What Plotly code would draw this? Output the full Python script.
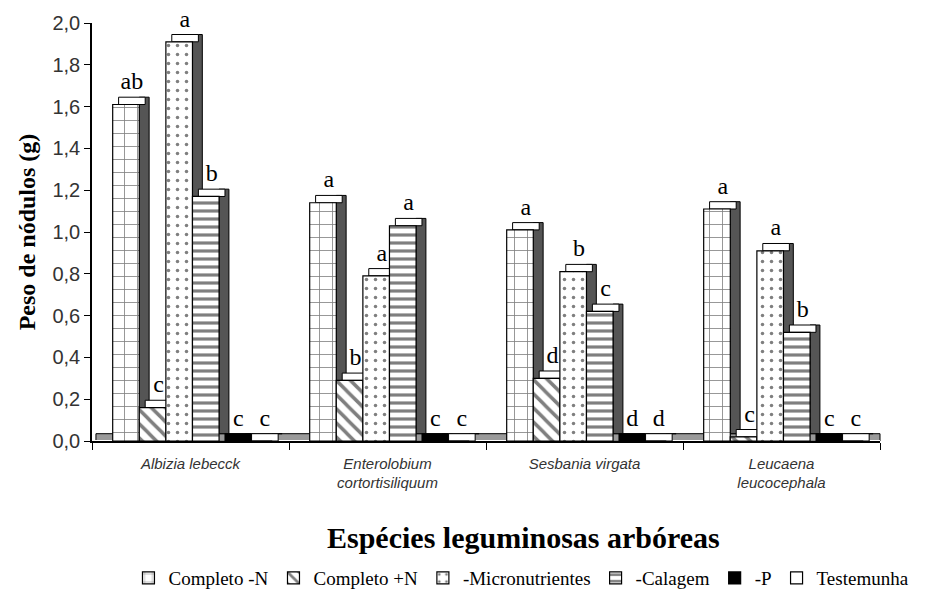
import plotly.graph_objects as go

especies = ["<i>Albizia lebecck</i>", "<i>Enterolobium</i><br><i>cortortisiliquum</i>",
            "<i>Sesbania virgata</i>", "<i>Leucaena</i><br><i>leucocephala</i>"]

tratamentos = ["Completo -N", "Completo +N", "-Micronutrientes", "-Calagem", "-P", "Testemunha"]

completo_menos_n = [1.61, 1.14, 1.01, 1.11]
completo_mais_n = [0.16, 0.29, 0.30, 0.02]
micronutrientes = [1.91, 0.79, 0.81, 0.91]
calagem = [1.17, 1.03, 0.62, 0.52]
fosforo = [0.0, 0.0, 0.0, 0.0]
testemunha = [0.0, 0.0, 0.0, 0.0]

letras_completo_menos_n = ["ab", "a", "a", "a"]
letras_completo_mais_n = ["c", "b", "d", "c"]
letras_micronutrientes = ["a", "a", "b", "a"]
letras_calagem = ["b", "a", "c", "b"]
letras_fosforo = ["c", "c", "d", "c"]
letras_testemunha = ["c", "c", "d", "c"]

valores = [completo_menos_n, completo_mais_n, micronutrientes, calagem, fosforo, testemunha]
letras = [letras_completo_menos_n, letras_completo_mais_n, letras_micronutrientes,
          letras_calagem, letras_fosforo, letras_testemunha]

# fill pattern per series: (shape, size, solidity, bg color)
padroes = [("+", 13, 0.12, "white"), ("\\", 10, 0.35, "white"), (".", 9, 0.12, "white"),
           ("-", 8, 0.4, "white"), ("", 8, 0.3, "black"), ("", 8, 0.3, "white")]

w = 0.135       # bar width (category units)
dx = 0.05       # depth, horizontal
dz = 0.035      # depth, vertical
start = -0.395

fig = go.Figure()

for i, nome in enumerate(tratamentos):
    off = start + i * w
    shape, size, sol, bg = padroes[i]
    topo_cor = "black" if bg == "black" else "white"
    # side face
    fig.add_trace(go.Bar(x=especies, y=valores[i], base=dz, offset=off + w, width=dx,
                         marker=dict(color="#555555", line=dict(color="black", width=1)),
                         showlegend=False, hoverinfo="skip"))
    # top face + letters
    fig.add_trace(go.Bar(x=especies, y=[dz] * 4, base=valores[i], offset=off + dx * 0.6, width=w,
                         marker=dict(color=topo_cor, line=dict(color="black", width=1)),
                         text=letras[i], textposition="outside", constraintext="none",
                         textfont=dict(family="Liberation Serif", size=24, color="black"),
                         cliponaxis=False, showlegend=False, hoverinfo="skip"))
    # front face
    fig.add_trace(go.Bar(x=especies, y=valores[i], offset=off, width=w, name=nome,
                         marker=dict(color=bg, line=dict(color="black", width=1.2),
                                     pattern=dict(shape=shape, size=size, solidity=sol,
                                                  fgcolor="black", bgcolor=bg))))

# page body has an 8px margin, so the figure is a bit smaller than the window
fig.update_layout(
    width=933, height=593,
    barmode="overlay",
    separators=",.",
    paper_bgcolor="white", plot_bgcolor="white",
    margin=dict(l=84, r=61, t=15, b=160, autoexpand=False),
    font=dict(family="Liberation Sans", color="#222"),
    shapes=[dict(type="rect", xref="paper", yref="y", x0=0.005, x1=1.0, y0=0, y1=0.035,
                 fillcolor="#9a9a9a", line=dict(color="black", width=1), layer="below")],
    legend=dict(orientation="h", x=0.545, xanchor="center", y=-0.328, yanchor="middle",
                font=dict(family="Liberation Serif", size=19, color="black"),
                itemwidth=30, traceorder="normal"),
    annotations=[dict(text="<b>Espécies leguminosas arbóreas</b>", xref="paper", yref="paper",
                      x=0.548, y=-0.23, xanchor="center", yanchor="middle", showarrow=False,
                      font=dict(family="Liberation Serif", size=30, color="black"))],
)

fig.update_yaxes(range=[0, 2.0], dtick=0.2, tickformat=".1f", showgrid=False,
                 showline=True, linecolor="black", linewidth=1.5, automargin=False,
                 ticks="outside", ticklen=6, tickcolor="black",
                 tickfont=dict(family="Liberation Sans", size=20, color="#333"),
                 title=dict(text="<b>Peso de nódulos (g)</b>", standoff=10,
                            font=dict(family="Liberation Serif", size=24, color="black")))
fig.update_xaxes(showgrid=False, showline=True, linecolor="black", linewidth=1.5,
                 tickson="boundaries", ticks="outside", ticklen=7, tickcolor="black",
                 automargin=False, ticklabelstandoff=8,
                 tickfont=dict(family="Liberation Sans", size=15, color="#333"))

fig.write_html("out.html")
